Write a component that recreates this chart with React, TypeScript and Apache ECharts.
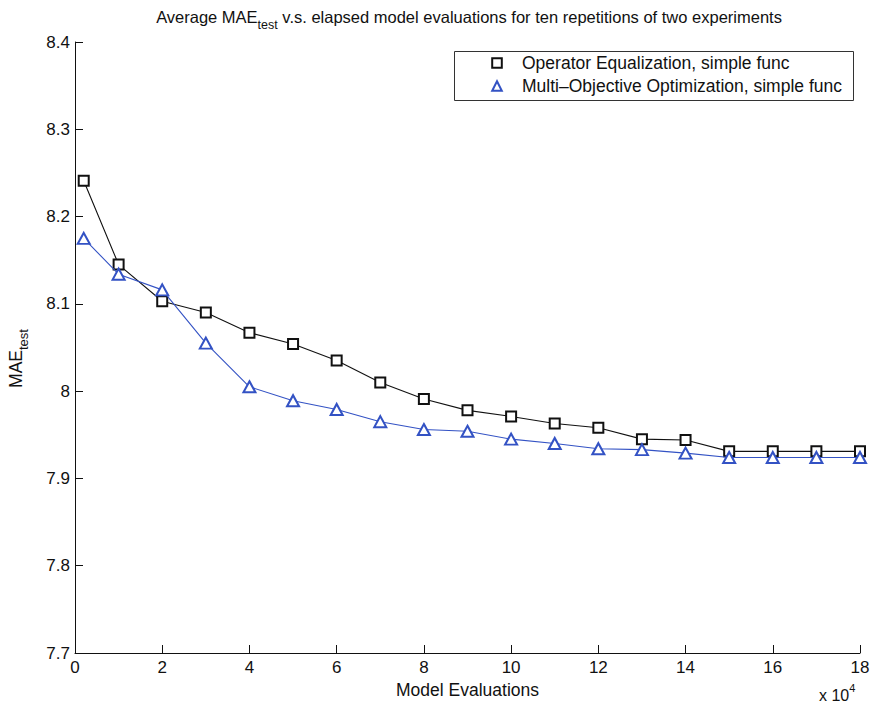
import React, { useEffect, useRef } from "react";
import * as echarts from "echarts";

// Model evaluations (x axis, actual counts; axis shows x 10^4)
const evaluations = [
  2000, 10000, 20000, 30000, 40000, 50000, 60000, 70000, 80000, 90000,
  100000, 110000, 120000, 130000, 140000, 150000, 160000, 170000, 180000,
];

// Average MAE_test, Operator Equalization
const oeMAE = [
  8.241, 8.145, 8.103, 8.09, 8.067, 8.054, 8.035, 8.01, 7.991, 7.978,
  7.971, 7.963, 7.958, 7.945, 7.944, 7.931, 7.931, 7.931, 7.931,
];

// Average MAE_test, Multi-Objective Optimization
const mooMAE = [
  8.175, 8.134, 8.116, 8.055, 8.005, 7.989, 7.979, 7.965, 7.956, 7.954,
  7.945, 7.94, 7.934, 7.933, 7.929, 7.924, 7.924, 7.924, 7.924,
];

const seriesNames = [
  "Operator Equalization, simple func",
  "Multi\u2013Objective Optimization, simple func",
];

const FONT = "'Liberation Sans', Arial, Helvetica, sans-serif";
const BLUE = "#3352c4";
const INK = "#111";

export default function App() {
  const ref = useRef<HTMLDivElement>(null);

  useEffect(() => {
    document.body.style.margin = "0";
    if (!ref.current) return;
    const chart = echarts.init(ref.current, undefined, { renderer: "svg" });

    const oeData = evaluations.map((x, i) => [x, oeMAE[i]]);
    const mooData = evaluations.map((x, i) => [x, mooMAE[i]]);

    chart.setOption({
      animation: false,
      backgroundColor: "#ffffff",
      textStyle: { fontFamily: FONT },
      title: {
        text: "Average MAE{sub|test} v.s. elapsed model evaluations for ten repetitions of two experiments",
        left: 469,
        top: 3,
        padding: 0,
        textAlign: "center",
        textStyle: {
          fontFamily: FONT,
          fontSize: 16.5,
          fontWeight: "normal",
          color: INK,
          lineHeight: 28,
          rich: {
            sub: {
              fontFamily: FONT,
              fontSize: 12.5,
              color: INK,
              lineHeight: 12,
              verticalAlign: "bottom",
            },
          },
        },
      },
      grid: {
        left: 75,
        right: 13,
        top: 42,
        bottom: 53,
        containLabel: false,
        outerBoundsMode: "none",
      },
      legend: {
        orient: "vertical",
        left: 491,
        top: 54,
        padding: 0,
        itemWidth: 12,
        itemHeight: 12,
        itemGap: 5,
        lineStyle: { width: 0, opacity: 0 },
        textStyle: {
          fontFamily: FONT,
          fontSize: 17.5,
          color: INK,
          padding: [0, 0, 0, 14],
        },
        data: seriesNames,
      },
      xAxis: {
        type: "value",
        min: 0,
        max: 180000,
        interval: 20000,
        name: "Model Evaluations",
        nameLocation: "middle",
        nameGap: 28,
        nameTextStyle: { fontFamily: FONT, fontSize: 17.5, color: INK },
        axisLine: { show: true, onZero: false, lineStyle: { color: INK, width: 1 } },
        axisTick: { show: true, inside: true, length: 8, lineStyle: { color: INK } },
        axisLabel: {
          fontFamily: FONT,
          fontSize: 17,
          color: INK,
          margin: 6,
          formatter: (v: number) => String(Math.round(v / 10000)),
        },
        splitLine: { show: false },
      },
      yAxis: {
        type: "value",
        min: 7.7,
        max: 8.4,
        interval: 0.1,
        name: "MAE{sub|test}",
        nameLocation: "middle",
        nameGap: 45,
        nameTextStyle: {
          fontFamily: FONT,
          fontSize: 17.5,
          color: INK,
          lineHeight: 28,
          padding: [0, 22, 0, 0],
          rich: {
            sub: {
              fontFamily: FONT,
              fontSize: 13,
              color: INK,
              lineHeight: 12,
              verticalAlign: "bottom",
            },
          },
        },
        axisLine: { show: true, lineStyle: { color: INK, width: 1 } },
        axisTick: { show: true, inside: true, length: 8, lineStyle: { color: INK } },
        axisLabel: {
          fontFamily: FONT,
          fontSize: 17,
          color: INK,
          margin: 5,
          formatter: (v: number) => String(parseFloat(v.toFixed(1))),
        },
        splitLine: { show: false },
      },
      graphic: [
        {
          type: "rect",
          left: 452,
          top: 49,
          shape: { x: 0, y: 0, width: 399, height: 49 },
          style: { fill: "none", stroke: "#333", lineWidth: 1 },
          z: 10,
          silent: true,
        },
        {
          type: "text",
          left: 819,
          top: 682,
          style: {
            text: "x 10{sup|4}",
            fontFamily: FONT,
            fontSize: 16,
            fill: INK,
            lineHeight: 26,
            rich: {
              sup: {
                fontFamily: FONT,
                fontSize: 11,
                fill: INK,
                lineHeight: 8,
                verticalAlign: "top",
              },
            },
          } as any,
        },
      ],
      series: [
        {
          name: seriesNames[0],
          type: "line",
          data: oeData,
          symbol: "emptyRect",
          symbolSize: 10,
          lineStyle: { color: INK, width: 1.1 },
          itemStyle: { color: INK, borderColor: INK, borderWidth: 1.3 },
          z: 3,
        },
        {
          name: seriesNames[1],
          type: "line",
          data: mooData,
          symbol: "emptyTriangle",
          symbolSize: [12, 11],
          lineStyle: { color: BLUE, width: 1.1 },
          itemStyle: { color: BLUE, borderColor: BLUE, borderWidth: 1.3 },
          z: 4,
        },
      ],
    });

    return () => chart.dispose();
  }, []);

  return <div ref={ref} style={{ width: 873, height: 706 }} />;
}
